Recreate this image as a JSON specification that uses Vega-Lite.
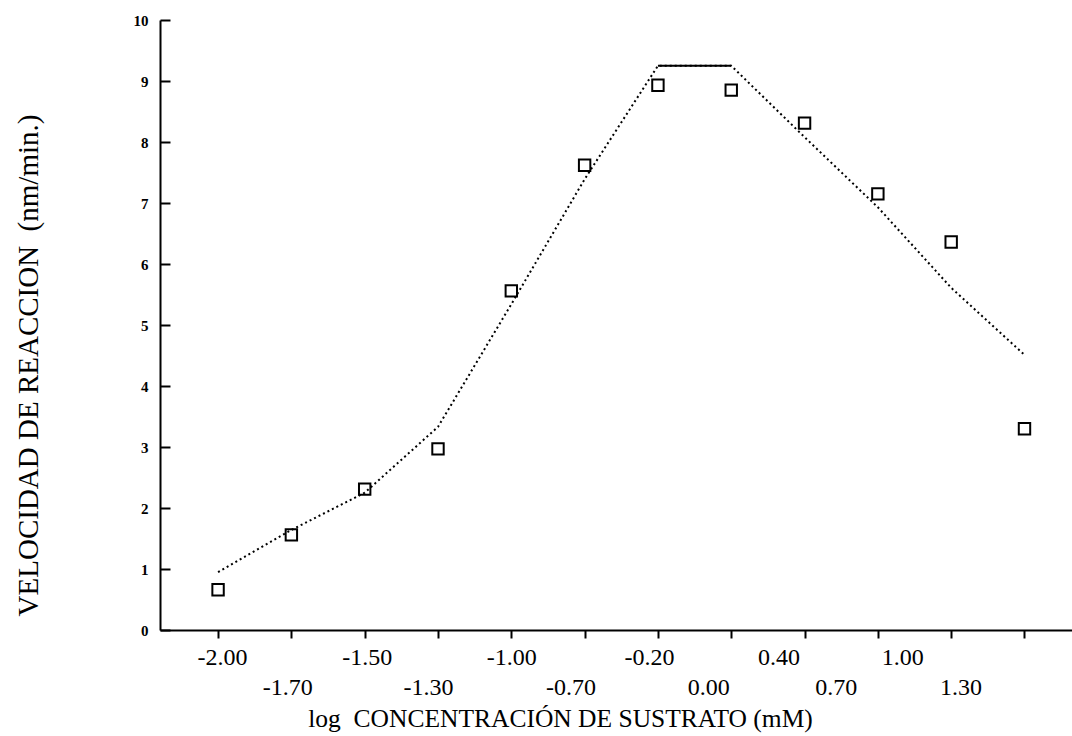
{
  "$schema": "https://vega.github.io/schema/vega-lite/v6.json",
  "autosize": {"type": "none"},
  "padding": {"left": 160, "top": 20, "right": 0, "bottom": 106},
  "width": 912,
  "height": 610,
  "background": "white",
  "config": {
    "view": {"stroke": null},
    "font": "Liberation Serif"
  },
  "datasets": {
    "obs": [
      {"logS": "-2.00", "v": 0.66},
      {"logS": "-1.70", "v": 1.56},
      {"logS": "-1.50", "v": 2.31},
      {"logS": "-1.30", "v": 2.97},
      {"logS": "-1.00", "v": 5.56},
      {"logS": "-0.70", "v": 7.62},
      {"logS": "-0.20", "v": 8.93},
      {"logS": "0.00", "v": 8.85},
      {"logS": "0.40", "v": 8.31},
      {"logS": "0.70", "v": 7.15},
      {"logS": "1.00", "v": 6.36},
      {"logS": "1.30", "v": 3.30}
    ],
    "fit": [
      {"logS": "-2.00", "v": 0.95},
      {"logS": "-1.70", "v": 1.64},
      {"logS": "-1.50", "v": 2.25},
      {"logS": "-1.30", "v": 3.33},
      {"logS": "-1.00", "v": 5.34},
      {"logS": "-0.70", "v": 7.39},
      {"logS": "-0.20", "v": 9.25},
      {"logS": "0.00", "v": 9.25},
      {"logS": "0.40", "v": 8.08},
      {"logS": "0.70", "v": 6.93},
      {"logS": "1.00", "v": 5.61},
      {"logS": "1.30", "v": 4.51}
    ],
    "fitTop": [
      {"logS": "-0.20", "v": 9.25},
      {"logS": "0.00", "v": 9.25}
    ]
  },
  "encoding": {
    "x": {
      "field": "logS",
      "type": "nominal",
      "scale": {
        "type": "point",
        "domain": ["-2.00", "-1.70", "-1.50", "-1.30", "-1.00", "-0.70", "-0.20", "0.00", "0.40", "0.70", "1.00", "1.30"],
        "padding": 0.72,
        "align": 0.55
      },
      "axis": {
        "title": "log\u00a0\u00a0CONCENTRACIÓN DE SUSTRATO (mM)",
        "titleFont": "Liberation Serif",
        "titleFontSize": 25.5,
        "titleFontWeight": "normal",
        "titleColor": "black",
        "titleX": 400,
        "titleY": 88,
        "titleBaseline": "middle",
        "titleAnchor": "middle",
        "labelAngle": 0,
        "labelFont": "Liberation Serif",
        "labelFontSize": 24,
        "labelColor": "black",
        "labelBaseline": "middle",
        "labelOverlap": false,
        "labelPadding": {
          "condition": {"test": "indexof(['-1.70','-1.30','-0.70','0.00','0.70','1.30'], datum.value) >= 0", "value": 49},
          "value": 19
        },
        "labelOffset": {
          "condition": [
            {"test": "datum.value === '-2.00'", "value": 4},
            {"test": "datum.value === '-1.70'", "value": -4},
            {"test": "datum.value === '-1.50'", "value": 2},
            {"test": "datum.value === '-1.30'", "value": -10},
            {"test": "datum.value === '-0.70'", "value": -14},
            {"test": "datum.value === '-0.20'", "value": -9},
            {"test": "datum.value === '0.00'", "value": -23},
            {"test": "datum.value === '0.40'", "value": -26},
            {"test": "datum.value === '0.70'", "value": -42},
            {"test": "datum.value === '1.00'", "value": -49},
            {"test": "datum.value === '1.30'", "value": -64}
          ],
          "value": 0
        },
        "tickSize": 8,
        "tickWidth": 2,
        "tickColor": "black",
        "domainColor": "black",
        "domainWidth": 2,
        "grid": false
      }
    },
    "y": {
      "field": "v",
      "type": "quantitative",
      "scale": {"domain": [0, 10], "nice": false, "zero": true},
      "axis": {
        "title": "VELOCIDAD DE REACCION\u00a0\u00a0(nm/min.)",
        "titleFont": "Liberation Serif",
        "titleFontSize": 29,
        "titleFontWeight": "normal",
        "titleColor": "black",
        "titleAngle": -90,
        "titleX": -132,
        "titleY": 345,
        "titleBaseline": "middle",
        "titleAlign": "center",
        "values": [0, 1, 2, 3, 4, 5, 6, 7, 8, 9, 10],
        "labelFont": "Liberation Serif",
        "labelFontSize": 15,
        "labelFontWeight": "bold",
        "labelColor": "black",
        "labelPadding": 22,
        "tickSize": -10,
        "tickWidth": 2,
        "tickColor": "black",
        "domainColor": "black",
        "domainWidth": 2,
        "grid": false
      }
    }
  },
  "layer": [
    {
      "mark": {"type": "rule", "color": "black", "strokeWidth": 2},
      "encoding": {"y": {"datum": 10}, "x": null}
    },
    {
      "data": {"name": "fit"},
      "mark": {"type": "line", "color": "black", "strokeWidth": 2, "strokeDash": [2, 3]}
    },
    {
      "data": {"name": "fitTop"},
      "mark": {"type": "line", "color": "black", "strokeWidth": 2}
    },
    {
      "data": {"name": "obs"},
      "mark": {"type": "point", "shape": "square", "filled": false, "size": 130, "strokeWidth": 2, "color": "black", "opacity": 1}
    }
  ]
}
